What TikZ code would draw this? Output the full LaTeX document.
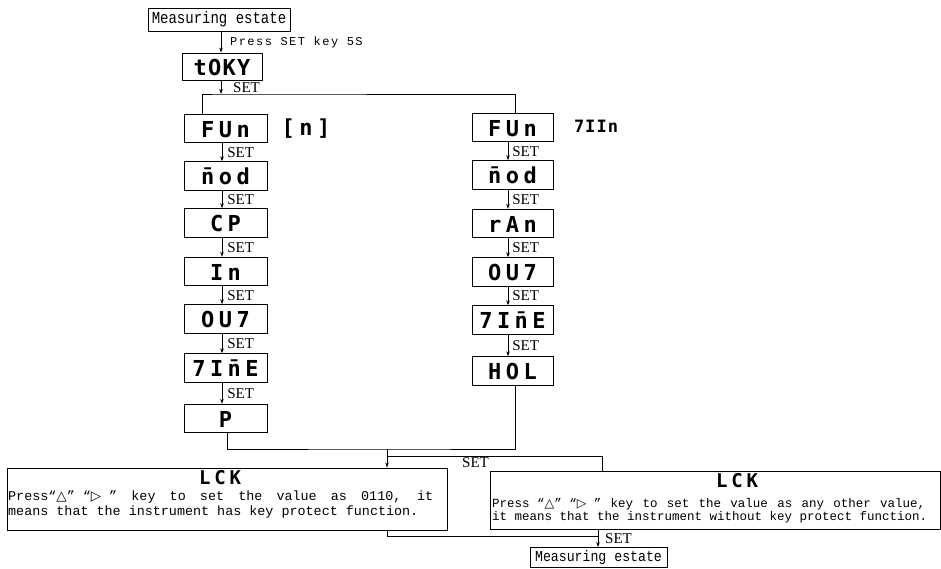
\documentclass[tikz,border=0pt]{standalone}
\usepackage{fontspec}
\setmainfont{Liberation Serif}
\newfontfamily\monof{Liberation Mono}
\newfontfamily\monosp[LetterSpace=12]{Liberation Mono}
\newfontfamily\ledf[LetterSpace=20]{DejaVu Sans Mono}
\newfontfamily\ledtight[LetterSpace=6]{DejaVu Sans Mono}
\newfontfamily\symf{DejaVu Sans}
\usetikzlibrary{arrows.meta}
\newcommand\jline[2]{\hbox to #1{\spaceskip=\fontdimen2\font plus 1fil\relax #2}}
\begin{document}
\begin{tikzpicture}[x=1pt,y=-1pt,
  box/.style={draw, line width=0.9pt, inner sep=0pt},
  ledfont/.style={font=\ledf\bfseries\fontsize{22}{22}\selectfont},
  ledbox/.style={box, ledfont, minimum width=83pt, minimum height=28.5pt, text height=17pt, text depth=0pt},
  ledboxR/.style={ledbox, minimum width=81pt},
  ledtxt/.style={ledfont, inner sep=0pt, text height=15pt, text depth=0pt},
  lcktxt/.style={font=\ledf\bfseries\fontsize{19}{19}\selectfont, inner sep=0pt, text height=13.5pt, text depth=0pt},
  setlbl/.style={font=\fontsize{15}{15}\selectfont, anchor=west, inner sep=0pt},
  mtxt/.style={anchor=base west, inner sep=0pt},
  arr/.style={-{Stealth[length=5pt,width=3.5pt]}, line width=0.7pt},
  conn/.style={line width=0.8pt}]
\useasboundingbox (0,0) rectangle (941,568);

% top
\node[box, minimum width=142pt, minimum height=23pt, font=\monof\fontsize{14}{14}\selectfont] (me1) at (219,19.5) {\scalebox{1}[1.2]{Measuring estate}};
\node[box, minimum width=80pt, minimum height=27pt, font=\ledtight\bfseries\fontsize{22}{22}\selectfont, text height=17pt, text depth=0pt] (toky) at (222,66.5) {tOKY};
\draw[arr] ([xshift=2pt]me1.south) -- ([xshift=-1pt]toky.north);
\node[mtxt, font=\monosp\fontsize{12}{12}\selectfont] (pst) at (230,45) {Press SET key 5S};

\coordinate (split) at (221,94);
\draw[arr] ([xshift=-1pt]toky.south) -- (split);
\node[setlbl] (s0) at (233,87.5) {SET};

% left column
\node[ledbox] (funL) at (225.5,128.5) {FUn};
\node[ledbox] (nodL) at (225.5,176) {\=nod};
\node[ledbox] (cpL) at (225.5,223) {CP};
\node[ledbox] (inL) at (225.5,271.5) {In};
\node[ledbox] (outL) at (225.5,319) {OU7};
\node[ledbox] (timL) at (225.5,368) {7I\=nE};
\node[ledbox] (pL) at (225.5,418.5) {P};
\node[ledtxt] (cnlbl) at (306,128) {[n]};

% right column
\node[ledboxR] (funR) at (512.5,127.5) {FUn};
\node[ledboxR] (nodR) at (512.5,175) {\=nod};
\node[ledboxR] (ranR) at (512.5,223.5) {rAn};
\node[ledboxR] (outR) at (512.5,272) {OU7};
\node[ledboxR] (timR) at (512.5,320) {7I\=nE};
\node[ledboxR] (holR) at (512.5,371) {HOL};
\node[inner sep=0pt, font=\ledtight\bfseries\fontsize{17}{17}\selectfont, text height=13pt, text depth=0pt] (timlbl) at (596,126) {7IIn};

\draw[conn] ([xshift=-23.5pt]funL.north) |- (split) -| ([xshift=2.5pt]funR.north);

\foreach \a/\b in {funL/nodL, nodL/cpL, cpL/inL, inL/outL, outL/timL, timL/pL}
  \draw[arr] ([xshift=-3.5pt]\a.south) -- ([xshift=-3.5pt]\b.north)
    node[midway, setlbl, xshift=5pt] {SET};
\foreach \a/\b in {funR/nodR, nodR/ranR, ranR/outR, outR/timR, timR/holR}
  \draw[arr] ([xshift=-4.5pt]\a.south) -- ([xshift=-4.5pt]\b.north)
    node[midway, setlbl, xshift=4pt] {SET};

% bottom boxes
\node[box, minimum width=440pt, minimum height=62pt] (lckL) at (227,499) {};
\node[box, minimum width=450pt, minimum height=58pt] (lckR) at (715,500) {};
\node[lcktxt] (lckLt) at (220,478) {LCK};
\node[lcktxt] (lckRt) at (737,481) {LCK};

\node[mtxt, font=\monof\fontsize{13.4}{15}\selectfont] (l1) at (8,500.5)
  {\jline{425pt}{\hbox{Press“{\symf △}” “{\symf ▷} ”} key to set the value as 0110, it}};
\node[mtxt, font=\monof\fontsize{13.4}{15}\selectfont] (l2) at (8,515)
  {means that the instrument has key protect function.};
\node[mtxt, font=\monof\fontsize{12.5}{14}\selectfont] (r1) at (492,507)
  {\jline{433pt}{\hbox{Press “{\symf △}” “{\symf ▷} ”} key to set the value as any other value,}};
\node[mtxt, font=\monof\fontsize{12.5}{14}\selectfont] (r2) at (492,520)
  {it means that the instrument without key protect function.};

\node[box, minimum width=137pt, minimum height=20pt, font=\monof\fontsize{13.2}{13.2}\selectfont] (me2) at (598.5,557.5) {\scalebox{1}[1.15]{Measuring estate}};

% bottom connectors
\coordinate (m1) at (387,449);
\coordinate (m2) at (387,456);
\coordinate (m3) at (598,536);
\draw[conn] ([xshift=1.5pt]pL.south) |- (m1) -| ([xshift=2.5pt]holR.south);
\draw[arr] (m1) -- (m1 |- lckL.north);
\draw[conn] (m2) -| ([xshift=-113pt]lckR.north);
\node[setlbl] (s1) at (462,463) {SET};
\draw[conn] ([xshift=160pt]lckL.south) |- (m3);
\draw[arr] ([xshift=-117pt]lckR.south) -- (m3 |- me2.north);
\node[setlbl] (s2) at (605,538.5) {SET};
\end{tikzpicture}
\end{document}
